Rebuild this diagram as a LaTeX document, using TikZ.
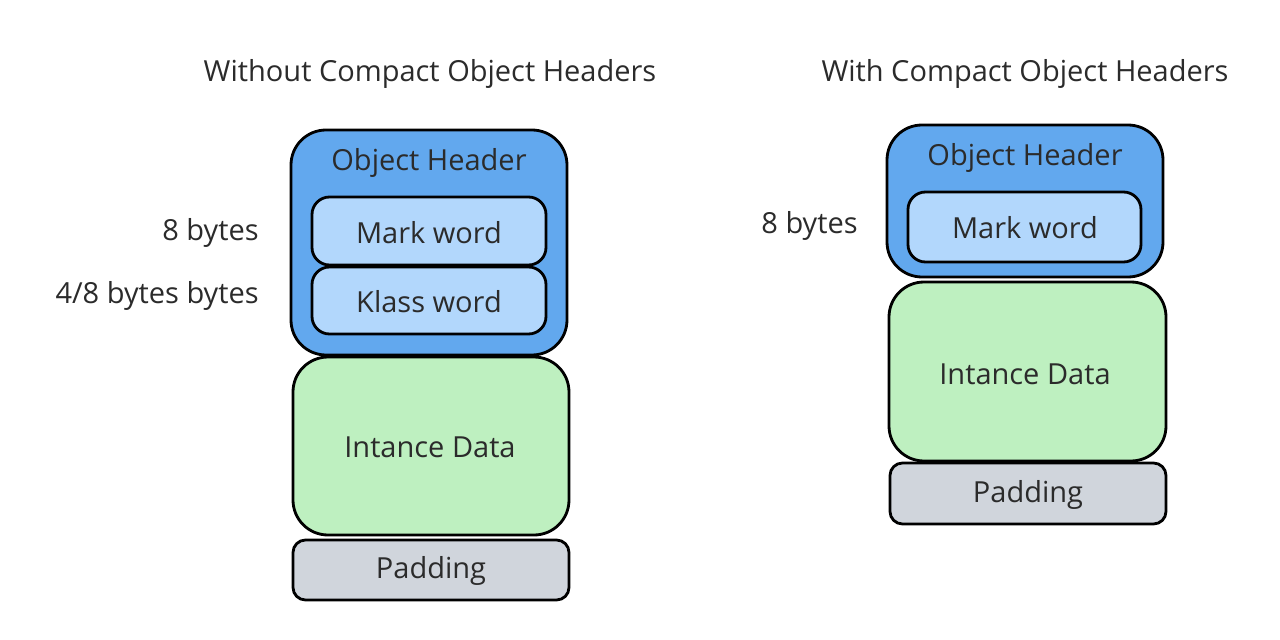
\documentclass[tikz,border=0pt]{standalone}
\usepackage{fontspec}
\setmainfont{Open Sans}
\definecolor{hdr}{HTML}{62A8EE}
\definecolor{word}{HTML}{B2D7FC}
\definecolor{data}{HTML}{BEF0C0}
\definecolor{pad}{HTML}{D0D5DC}
\definecolor{ink}{HTML}{2B2B2B}
\begin{document}
\begin{tikzpicture}[x=0.2mm,y=-0.2mm,
  box/.style={draw=black,line width=1.6pt,rounded corners=#1},
  box/.default=7mm,
  lbl/.style={text=ink,font=\fontsize{16.5pt}{18pt}\selectfont,inner sep=0pt},
  ttl/.style={text=ink,font=\fontsize{16.5pt}{18pt}\selectfont,inner sep=0pt}]
\useasboundingbox (0,0) rectangle (1280,640);
% left column
\node[ttl] (t1) at (430,74) {Without Compact Object Headers};
\draw[box,fill=hdr] (291,130) rectangle (567,355);
\node[lbl] (oh1) at (429,163) {Object Header};
\draw[box=3.5mm,fill=word] (312,197) rectangle (546,265);
\node[lbl] (mw1) at (429,233) {Mark word};
\draw[box=3.5mm,fill=word] (312,267) rectangle (546,334);
\node[lbl] (kw1) at (429,302) {Klass word};
\draw[box,fill=data] (293,357) rectangle (569,535);
\node[lbl] (id1) at (430,447) {Intance Data};
\draw[box=2.5mm,fill=pad] (293,540) rectangle (569,600);
\node[lbl] (pd1) at (431,571) {Padding};
\node[lbl,anchor=east] (b1) at (259,233) {8 bytes};
\node[lbl,anchor=east] (b2) at (259,296) {4/8 bytes bytes};
% right column
\node[ttl] (t2) at (1025,74) {With Compact Object Headers};
\draw[box,fill=hdr] (887,125) rectangle (1163,277);
\node[lbl] (oh2) at (1025,158) {Object Header};
\draw[box=3.5mm,fill=word] (908,192) rectangle (1141,262);
\node[lbl] (mw2) at (1025,228) {Mark word};
\draw[box,fill=data] (889,282) rectangle (1166,461);
\node[lbl] (id2) at (1025,374) {Intance Data};
\draw[box=2.5mm,fill=pad] (890,463) rectangle (1166,524);
\node[lbl] (pd2) at (1028,495) {Padding};
\node[lbl,anchor=east] (b3) at (858,226) {8 bytes};
\end{tikzpicture}
\end{document}
